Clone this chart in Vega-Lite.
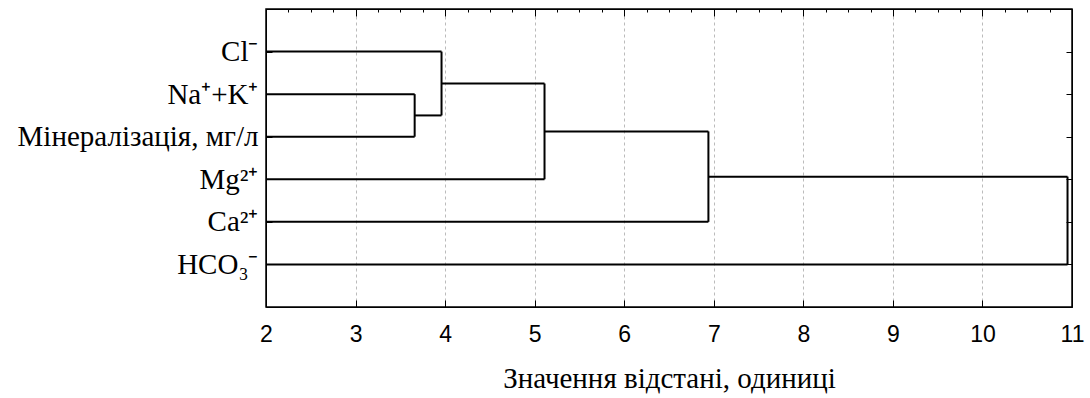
{
  "$schema": "https://vega.github.io/schema/vega-lite/v6.json",
  "autosize": "none",
  "padding": {"left": 266, "top": 9, "right": 18, "bottom": 91},
  "width": 806,
  "height": 298,
  "background": "white",
  "config": {
    "view": {"stroke": "black", "strokeWidth": 1.5},
    "axis": {"domainColor": "black", "tickColor": "black", "labelColor": "black", "titleColor": "black"}
  },
  "data": {
    "values": [
      {"seg": "Cl", "x": 2, "x2": 3.96, "y": 1, "y2": 1},
      {"seg": "Na+K", "x": 2, "x2": 3.66, "y": 2, "y2": 2},
      {"seg": "Min", "x": 2, "x2": 3.66, "y": 3, "y2": 3},
      {"seg": "Mg", "x": 2, "x2": 5.11, "y": 4, "y2": 4},
      {"seg": "Ca", "x": 2, "x2": 6.94, "y": 5, "y2": 5},
      {"seg": "HCO3", "x": 2, "x2": 10.95, "y": 6, "y2": 6},
      {"seg": "j1h", "x": 3.66, "x2": 3.96, "y": 2.5, "y2": 2.5},
      {"seg": "j2h", "x": 3.96, "x2": 5.11, "y": 1.75, "y2": 1.75},
      {"seg": "j3h", "x": 5.11, "x2": 6.94, "y": 2.875, "y2": 2.875},
      {"seg": "j4h", "x": 6.94, "x2": 10.95, "y": 3.9375, "y2": 3.9375},
      {"seg": "j1v", "x": 3.66, "x2": 3.66, "y": 2, "y2": 3},
      {"seg": "j2v", "x": 3.96, "x2": 3.96, "y": 1, "y2": 2.5},
      {"seg": "j3v", "x": 5.11, "x2": 5.11, "y": 1.75, "y2": 4},
      {"seg": "j4v", "x": 6.94, "x2": 6.94, "y": 2.875, "y2": 5},
      {"seg": "j5v", "x": 10.95, "x2": 10.95, "y": 3.9375, "y2": 6}
    ]
  },
  "layer": [
    {
      "mark": {"type": "rule", "color": "black", "strokeWidth": 2},
      "encoding": {
        "x": {
          "field": "x", "type": "quantitative",
          "scale": {"domain": [2, 11], "nice": false, "zero": false},
          "axis": {
            "orient": "bottom",
            "values": [2,2.25,2.5,2.75,3,3.25,3.5,3.75,4,4.25,4.5,4.75,5,5.25,5.5,5.75,6,6.25,6.5,6.75,7,7.25,7.5,7.75,8,8.25,8.5,8.75,9,9.25,9.5,9.75,10,10.25,10.5,10.75,11],
            "format": "d",
            "labelExpr": "datum.value % 1 === 0 ? datum.label : ''",
            "labelFont": "Liberation Sans",
            "labelFontSize": 23,
            "labelPadding": 23,
            "labelFlush": false,
            "labelOverlap": false,
            "tickSize": {"condition": {"test": "datum.value % 1 === 0", "value": -7}, "value": -3},
            "grid": true,
            "gridColor": "#bbbbbb",
            "gridDash": [3, 3],
            "gridWidth": 1,
            "gridOpacity": {"condition": {"test": "datum.value % 1 === 0", "value": 1}, "value": 0},
            "title": "Значення відстані, одиниці",
            "titleFont": "Liberation Serif",
            "titleFontSize": 29,
            "titleFontWeight": "normal",
            "titlePadding": 18
          }
        },
        "x2": {"field": "x2"},
        "y": {
          "field": "y", "type": "quantitative",
          "scale": {"domain": [0, 7], "reverse": true, "nice": false, "zero": false},
          "axis": {
            "orient": "left",
            "values": [1, 2, 3, 4, 5, 6],
            "labelExpr": "['', 'Cl⁻', 'Na⁺+K⁺', 'Мінералізація, мг/л', 'Mg²⁺', 'Ca²⁺', 'HCO₃⁻'][datum.value]",
            "labelFont": "Liberation Serif",
            "labelFontSize": 29,
            "labelLimit": 0,
            "labelPadding": 14,
            "labelBaseline": "middle",
            "tickSize": -6,
            "grid": false,
            "title": null
          }
        },
        "y2": {"field": "y2"}
      }
    },
    {
      "mark": {"type": "rule", "color": "black", "strokeOpacity": 0},
      "encoding": {
        "x": {
          "field": "x", "type": "quantitative",
          "axis": {
            "orient": "top",
            "values": [2,2.25,2.5,2.75,3,3.25,3.5,3.75,4,4.25,4.5,4.75,5,5.25,5.5,5.75,6,6.25,6.5,6.75,7,7.25,7.5,7.75,8,8.25,8.5,8.75,9,9.25,9.5,9.75,10,10.25,10.5,10.75,11],
            "labels": false,
            "tickSize": {"condition": {"test": "datum.value % 1 === 0", "value": -7}, "value": -3},
            "grid": false,
            "title": null
          }
        },
        "x2": {"field": "x2"},
        "y": {
          "field": "y", "type": "quantitative",
          "axis": {
            "orient": "right",
            "values": [1, 2, 3, 4, 5, 6],
            "labels": false,
            "tickSize": -6,
            "grid": false,
            "title": null
          }
        },
        "y2": {"field": "y2"}
      }
    }
  ],
  "resolve": {"axis": {"x": "independent", "y": "independent"}}
}
